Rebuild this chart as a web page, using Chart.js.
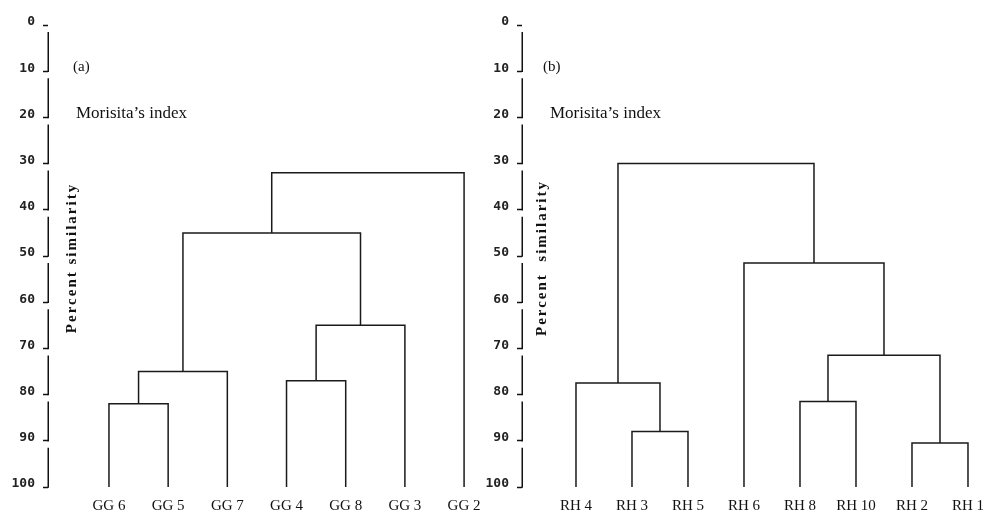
<!DOCTYPE html>
<html>
<head>
<meta charset="utf-8">
<script src="https://cdn.jsdelivr.net/npm/chart.js@4.4.1/dist/chart.umd.min.js"></script>
<style>
  html, body { margin: 0; padding: 0; background: #fff; }
  #wrap { position: relative; width: 987px; height: 513px; }
  canvas { position: absolute; top: 0; }
  #chartA { left: 0; }
  #chartB { left: 474px; }
</style>
</head>
<body>
<div id="wrap">
  <canvas id="chartA" width="494" height="513"></canvas>
  <canvas id="chartB" width="513" height="513"></canvas>
</div>
<script>
// (a) leaves, left to right
const leavesA = ['GG 6', 'GG 5', 'GG 7', 'GG 4', 'GG 8', 'GG 3', 'GG 2'];
// each merge joins two clusters; an index >= leaves.length points to an earlier merge
const linksA = [[0, 1], [7, 2], [3, 4], [9, 5], [8, 10], [11, 6]];
const heightsA = [82, 75, 77, 65, 45, 32];

// (b)
const leavesB = ['RH 4', 'RH 3', 'RH 5', 'RH 6', 'RH 8', 'RH 10', 'RH 2', 'RH 1'];
const linksB = [[1, 2], [0, 8], [4, 5], [6, 7], [10, 11], [3, 12], [9, 13]];
const heightsB = [88, 77.5, 81.5, 90.5, 71.5, 51.5, 30];

const similarityTicks = [0, 10, 20, 30, 40, 50, 60, 70, 80, 90, 100];

function dendrogram(leaves, links, heights) {
    const pos = leaves.map((_, i) => ({ x: i, y: 100 }));
    return links.map(([a, b], k) => {
        const p = pos[a], q = pos[b], h = heights[k];
        pos.push({ x: (p.x + q.x) / 2, y: h });
        return {
            data: [{ x: p.x, y: p.y }, { x: p.x, y: h }, { x: q.x, y: h }, { x: q.x, y: q.y }],
            borderColor: '#1a1a1a',
            borderWidth: 1.5,
            pointRadius: 0,
            tension: 0,
            fill: false
        };
    });
}

// broken axis line, panel letter, index name and the rotated title inside the plot
const notes = {
    id: 'notes',
    afterDraw(chart, args, opts) {
        const { ctx, chartArea } = chart;
        const y = chart.scales.y;
        ctx.save();
        ctx.strokeStyle = '#111';
        ctx.lineWidth = 1.5;
        ctx.beginPath();
        for (let i = 1; i < similarityTicks.length; i++) {
            const x0 = Math.round(chartArea.left) + 0.25;
            ctx.moveTo(x0, y.getPixelForValue(similarityTicks[i - 1]) + 7);
            ctx.lineTo(x0, y.getPixelForValue(similarityTicks[i]) + 0.75);
        }
        ctx.stroke();

        ctx.fillStyle = '#111';
        ctx.textAlign = 'left';
        ctx.textBaseline = 'middle';
        ctx.font = '15px "Liberation Serif"';
        ctx.fillText(opts.tag, chartArea.left + opts.tagDx, y.getPixelForValue(10) - 4);
        ctx.font = '17px "Liberation Serif"';
        ctx.textBaseline = 'alphabetic';
        ctx.fillText(opts.index, chartArea.left + 28, y.getPixelForValue(20) + 1);
        ctx.translate(chartArea.left + opts.titleDx, y.getPixelForValue(50) + 2);
        ctx.rotate(-Math.PI / 2);
        ctx.font = 'bold 15px "Liberation Serif"';
        ctx.letterSpacing = '2px';
        ctx.textAlign = 'center';
        ctx.textBaseline = 'middle';
        ctx.fillText(opts.title, 0, 0);
        ctx.restore();
    }
};

function makeChart(id, leaves, links, heights, xMin, xMax, padRight, noteOpts) {
    return new Chart(document.getElementById(id), {
        type: 'line',
        data: { datasets: dendrogram(leaves, links, heights) },
        plugins: [notes],
        options: {
            responsive: false,
            animation: false,
            layout: { autoPadding: false, padding: { top: 25, right: padRight, left: 0, bottom: 0 } },
            plugins: {
                legend: { display: false },
                tooltip: { enabled: false },
                notes: noteOpts
            },
            scales: {
                x: {
                    type: 'linear',
                    min: xMin,
                    max: xMax,
                    afterBuildTicks: s => { s.ticks = leaves.map((_, i) => ({ value: i })); },
                    afterFit: s => {
                        s.height = 26;
                        s.paddingLeft = 0;
                        s.paddingRight = 0;
                    },
                    grid: { display: false, drawTicks: false },
                    border: { display: false },
                    ticks: {
                        autoSkip: false,
                        maxRotation: 0,
                        padding: 10,
                        color: '#111',
                        font: { family: 'Liberation Serif', size: 15 },
                        callback: v => leaves[v]
                    }
                },
                y: {
                    type: 'linear',
                    reverse: true,
                    min: 0,
                    max: 100,
                    afterBuildTicks: s => { s.ticks = similarityTicks.map(v => ({ value: v })); },
                    afterFit: s => {
                        s.width = 48;
                        s.paddingTop = 0;
                        s.paddingBottom = 0;
                    },
                    grid: { drawOnChartArea: false, tickLength: 5, tickColor: '#111', tickWidth: 1.5 },
                    border: { display: false },
                    ticks: {
                        color: '#222',
                        padding: 8,
                        labelOffset: -3,
                        font: { family: 'DejaVu Sans Mono', weight: 'bold', size: 13 }
                    }
                }
            }
        }
    });
}

makeChart('chartA', leavesA, linksA, heightsA, -1.03, 6.1, 24,
    { tag: '(a)', tagDx: 25, index: 'Morisita’s index', title: 'Percent similarity', titleDx: 24 });
makeChart('chartB', leavesB, linksB, heightsB, -0.964, 7.268, 4,
    { tag: '(b)', tagDx: 21, index: 'Morisita’s index', title: 'Percent  similarity', titleDx: 20 });
</script>
</body>
</html>
